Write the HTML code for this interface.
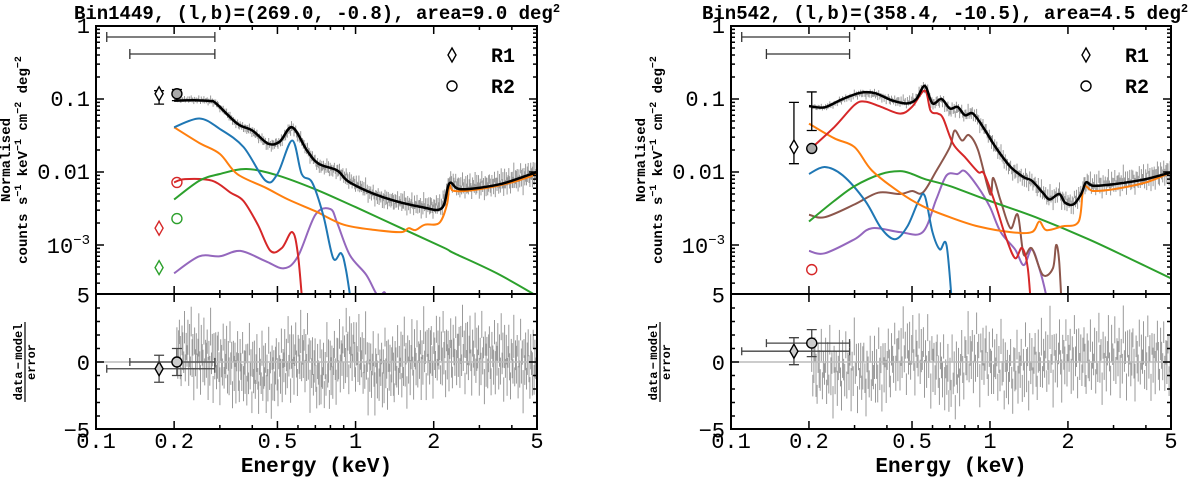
<!DOCTYPE html>
<html><head><meta charset="utf-8"><style>
html,body{margin:0;padding:0;background:#fff;}
svg{display:block;font-family:"Liberation Mono","DejaVu Sans Mono",monospace;}
</style></head><body>
<svg id="chart" width="1200" height="480" viewBox="0 0 1200 480" xmlns="http://www.w3.org/2000/svg">
<defs>
<clipPath id="clipL"><rect x="96" y="26" width="441" height="268"/></clipPath>
<clipPath id="clipR"><rect x="731" y="26" width="440" height="268"/></clipPath>
<clipPath id="clipLr"><rect x="96" y="294" width="441" height="135"/></clipPath>
<clipPath id="clipRr"><rect x="731" y="294" width="440" height="135"/></clipPath>
</defs>
</svg>
<script>
// ---------- LEFT PANEL DATA (Bin1449) ----------
const L_totE=[0.2,0.24,0.274,0.29,0.35,0.40,0.46,0.51,0.57,0.65,0.72,0.85,0.95,1.28,1.8,2.15,2.3,2.55,3.6,5];
const L_totV=[0.095,0.096,0.094,0.087,0.046,0.037,0.0245,0.026,0.041,0.0197,0.013,0.0105,0.0072,0.0045,0.0033,0.0032,0.007,0.0058,0.0068,0.01];
const L_blueE=[0.2,0.25,0.3,0.37,0.45,0.5,0.57,0.62,0.68,0.75,0.82,0.88,0.92,0.98];
const L_blueV=[0.041,0.054,0.039,0.022,0.0076,0.0094,0.027,0.0094,0.0072,0.0026,0.00066,0.00077,0.00044,0.0001];
const L_orgE=[0.2,0.25,0.3,0.35,0.45,0.55,0.7,0.9,1.2,1.5,1.6,1.7,1.85,2.1,2.25,2.3,2.4,3,4,5];
const L_orgV=[0.041,0.025,0.0177,0.0094,0.0061,0.0042,0.0029,0.0019,0.0016,0.0015,0.0017,0.0016,0.0019,0.002,0.0036,0.0065,0.0055,0.0058,0.0072,0.0094];
const L_grnE=[0.2,0.25,0.3,0.38,0.5,0.7,1,1.5,2.2,2.4,3.5,5];
const L_grnV=[0.0042,0.0076,0.0094,0.011,0.009,0.0058,0.0033,0.0017,0.00091,0.00077,0.00041,0.0002];
const L_redE=[0.2,0.22,0.28,0.33,0.37,0.42,0.47,0.52,0.57,0.6,0.63];
const L_redV=[0.0072,0.008,0.0076,0.0052,0.004,0.0019,0.00083,0.00091,0.0015,0.00073,0.0001];
const L_purE=[0.2,0.25,0.3,0.36,0.45,0.53,0.6,0.7,0.8,0.85,0.95,1.1,1.22,1.3,1.35];
const L_purV=[0.00041,0.0007,0.0007,0.00083,0.0006,0.00048,0.0007,0.0026,0.0031,0.002,0.00073,0.00039,0.0002,0.00022,0.0001];
const L_resE=[0.2,0.25,0.3,0.35,0.4,0.45,0.5,0.55,0.6,0.65,0.7,0.75,0.8,0.9,0.95,1.0,1.1,1.2,1.4,1.6,1.8,2.0,2.5,3.0,3.5,4,4.5,5];
const L_resV=[0.8,0.5,0,-0.3,-0.8,-0.9,-0.5,0,0.3,0.5,-0.8,-1,-0.5,0.5,1,0.5,-0.3,-0.6,-0.5,0,0.3,0.5,0.7,0.4,0.3,0,0,-0.3];
const L_pts=[{lab:'R1',E:0.175,V:0.118,lo:0.085,hi:0.13,r:-0.5,eLo:0.11,eHi:0.287},{lab:'R2',E:0.205,V:0.118,lo:0.095,hi:0.135,r:0,eLo:0.135,eHi:0.287}];
const L_compPts=[{shape:'d',E:0.175,V:0.0017,c:'#d62728'},{shape:'o',E:0.205,V:0.0072,c:'#d62728'},{shape:'d',E:0.175,V:0.00049,c:'#2ca02c'},{shape:'o',E:0.205,V:0.0023,c:'#2ca02c'}];

// ---------- RIGHT PANEL DATA (Bin542) ----------
const R_totE=[0.2,0.23,0.27,0.317,0.36,0.42,0.48,0.52,0.56,0.6,0.65,0.7,0.75,0.8,0.86,0.95,1.05,1.2,1.35,1.45,1.6,1.7,1.85,1.95,2.1,2.25,2.35,2.5,3,4,5];
const R_totV=[0.08,0.077,0.1,0.122,0.12,0.095,0.087,0.1,0.151,0.087,0.1,0.074,0.078,0.06,0.063,0.039,0.022,0.0118,0.0085,0.0076,0.0052,0.0042,0.005,0.0038,0.0036,0.005,0.0072,0.0065,0.0068,0.008,0.0099];
const R_redE=[0.2,0.25,0.3,0.33,0.38,0.45,0.5,0.56,0.59,0.63,0.66,0.72,0.8,0.9,0.95,1.05,1.15,1.25,1.33,1.4,1.45];
const R_redV=[0.0198,0.041,0.083,0.092,0.078,0.063,0.078,0.13,0.069,0.063,0.054,0.0245,0.016,0.01,0.0094,0.0036,0.0013,0.00066,0.00091,0.00048,0.0001];
const R_brnE=[0.2,0.23,0.3,0.37,0.45,0.5,0.55,0.62,0.7,0.73,0.78,0.83,0.9,1.0,1.03,1.1,1.2,1.28,1.35,1.45,1.6,1.75,1.8,1.85,1.9];
const R_brnV=[0.0026,0.0024,0.0036,0.0052,0.005,0.0055,0.0052,0.0103,0.022,0.037,0.027,0.032,0.0198,0.005,0.0083,0.004,0.0017,0.0026,0.00074,0.0009,0.00039,0.00048,0.001,0.00059,0.0001];
const R_purE=[0.2,0.23,0.3,0.35,0.45,0.55,0.62,0.68,0.75,0.8,0.9,1.0,1.1,1.25,1.35,1.45,1.55,1.65,1.7];
const R_purV=[0.00083,0.00077,0.0012,0.0017,0.0015,0.0015,0.0042,0.009,0.0094,0.0103,0.0062,0.0033,0.0015,0.00087,0.00053,0.00087,0.00048,0.0002,0.0001];
const R_blueE=[0.2,0.23,0.27,0.33,0.38,0.43,0.48,0.53,0.56,0.6,0.64,0.68,0.72];
const R_blueV=[0.0094,0.0117,0.009,0.004,0.0017,0.0012,0.0018,0.004,0.0047,0.0015,0.00087,0.00098,0.0001];
const R_orgE=[0.2,0.25,0.3,0.35,0.45,0.55,0.7,0.9,1.2,1.45,1.55,1.65,1.9,2.2,2.3,2.5,3,4,5];
const R_orgV=[0.046,0.029,0.0219,0.0105,0.0052,0.0034,0.0024,0.0018,0.0015,0.0015,0.0021,0.0016,0.0018,0.0021,0.0061,0.0055,0.0058,0.0072,0.0099];
const R_grnE=[0.2,0.25,0.3,0.38,0.45,0.5,0.56,0.7,1,1.5,2.4,3.5,5];
const R_grnV=[0.0021,0.004,0.0064,0.0094,0.0103,0.0094,0.008,0.0064,0.004,0.0024,0.0012,0.00064,0.00035];
const R_resE=[0.2,0.25,0.3,0.35,0.4,0.45,0.5,0.55,0.6,0.65,0.7,0.75,0.8,0.9,0.95,1.0,1.1,1.2,1.4,1.6,1.8,2.0,2.5,3.0,3.5,4,4.5,5];
const R_resV=[-0.5,-0.8,-0.5,-1,-0.2,0.5,0.6,0.3,0,-0.5,-1.5,-1,0.2,0.5,0.3,0,-0.5,-0.8,-0.3,0,0.3,0.5,0,0.5,0.3,0.2,0.5,0];
const R_pts=[{lab:'R1',E:0.175,V:0.022,lo:0.013,hi:0.09,r:0.8,eLo:0.11,eHi:0.287},{lab:'R2',E:0.205,V:0.021,lo:0.037,hi:0.125,r:1.4,eLo:0.137,eHi:0.287}];
const R_compPts=[{shape:'o',E:0.205,V:0.00046,c:'#d62728'}];

// scatter pattern for the noisy data bins (read as typical deviation sequence)
const noisePattern=[0.8,-1.2,0.3,1.5,-0.4,-1.8,0.9,0.1,-0.7,1.9,-1.1,0.5,-0.2,1.2,-1.5,0.6,-0.9,2.4,-0.3,0.7,-2.2,1.0,-0.6];
const errPattern=[1.0,0.8,1.3,0.9,1.6,0.7,1.1,1.4,0.8,1.2,1.0];
const xTickVals=[0.1,0.2,0.5,1,2,5];
const xTickLabels=['0.1','0.2','0.5','1','2','5'];
const xMinorVals=[0.3,0.4,0.6,0.7,0.8,0.9,3,4];
const resTickVals=[5,0,-5];
const resTickLabels=['5','0','\u22125'];

const svg=document.getElementById('chart');
const NS='http://www.w3.org/2000/svg';
function mk(tag,attrs,parent){const e=document.createElementNS(NS,tag);for(const k in attrs)e.setAttribute(k,attrs[k]);(parent||svg).appendChild(e);return e;}
function lerpLog(Es,Vs,E){if(E<=Es[0])return Vs[0];for(let i=1;i<Es.length;i++){if(E<=Es[i]){const t=(Math.log10(E)-Math.log10(Es[i-1]))/(Math.log10(Es[i])-Math.log10(Es[i-1]));return Math.pow(10,Math.log10(Vs[i-1])+t*(Math.log10(Vs[i])-Math.log10(Vs[i-1])));}}return Vs[Vs.length-1];}
function lerpLin(Es,Vs,E){if(E<=Es[0])return Vs[0];for(let i=1;i<Es.length;i++){if(E<=Es[i]){const t=(Math.log10(E)-Math.log10(Es[i-1]))/(Math.log10(Es[i])-Math.log10(Es[i-1]));return Vs[i-1]+t*(Vs[i]-Vs[i-1]);}}return Vs[Vs.length-1];}
function smooth(p){let d='M'+p[0][0].toFixed(1)+','+p[0][1].toFixed(1);for(let i=0;i<p.length-1;i++){const p0=p[i-1]||p[i],p1=p[i],p2=p[i+1],p3=p[i+2]||p2;const c1=[p1[0]+(p2[0]-p0[0])/6,p1[1]+(p2[1]-p0[1])/6];const c2=[p2[0]-(p3[0]-p1[0])/6,p2[1]-(p3[1]-p1[1])/6];d+=' C'+c1[0].toFixed(1)+','+c1[1].toFixed(1)+' '+c2[0].toFixed(1)+','+c2[1].toFixed(1)+' '+p2[0].toFixed(1)+','+p2[1].toFixed(1);}return d;}

function panel(P){
  const g=mk('g',{});
  
  
  const TOP=26,MID=294,BOT=429,DEC=73;
  const xs=E=>P.x0+(Math.log10(E)+1)*(P.x1-P.x0)/Math.log10(50);
  const ys=V=>TOP-Math.log10(V)*DEC;
  const yr=r=>362-r*13.5;
  const t=mk('text',{x:P.titleX,y:19,'font-size':19,'font-weight':'bold','text-anchor':P.titleAnchor,fill:'#000'},g);
  
  
  t.appendChild(document.createTextNode(P.title));
  const sup=mk('tspan',{dy:-7,'font-size':12},t);sup.textContent='2';
  const gd=mk('g',{'clip-path':'url(#'+P.clip+')',stroke:'#999','stroke-width':1},g);
  
  
  const gr=mk('g',{'clip-path':'url(#'+P.clipR+')',stroke:'#999','stroke-width':1},g);
  
  
  let k=0;
  for(let E=0.205;E<=5;E*=P.step){
    const o=noisePattern[k%noisePattern.length];
    const ew=errPattern[k%errPattern.length];
    const r=lerpLin(P.resE,P.resV,E)+o;
    const ed=0.02+0.07*Math.log10(E/0.2)/1.4;
    const m=lerpLog(P.totE,P.totV,E);
    const x=xs(E);
    const yc=ys(m*Math.pow(10,r*ed*0.6));
    const l=mk('line',{x1:x.toFixed(1),x2:x.toFixed(1),y1:(yc-ed*DEC*ew).toFixed(1),y2:(yc+ed*DEC*ew).toFixed(1)},gd);
    
    
    const l2=mk('line',{x1:x.toFixed(1),x2:x.toFixed(1),y1:yr(r+ew).toFixed(1),y2:yr(r-ew).toFixed(1)},gr);
    
    
    k++;
  }
  P.curves.forEach(c=>{
    const pts=c.E.map((e,i)=>[xs(e),ys(Math.max(c.V[i],1e-4))]);
    const p=mk('path',{d:smooth(pts),fill:'none',stroke:c.col,'stroke-width':c.w||2,'clip-path':'url(#'+P.clip+')','stroke-linejoin':'round'},g);
    
    
  });
  const z=mk('line',{x1:P.x0,x2:P.x1,y1:362,y2:362,stroke:'#bbb','stroke-width':1.5},g);
  
  
  function marker(shape,x,y,fill,stroke,parent){
    let e;
    if(shape==='d')e=mk('path',{d:`M${x},${y-7} L${x+4},${y} L${x},${y+7} L${x-4},${y} Z`,fill:fill,stroke:stroke,'stroke-width':1.4},parent);
    else e=mk('circle',{cx:x,cy:y,r:5,fill:fill,stroke:stroke,'stroke-width':1.4},parent);
    return e;
  }
  P.compPts.forEach(c=>{
    const m=marker(c.shape,xs(c.E),ys(c.V),'none',c.c,g);
    
    
  });
  P.pts.forEach((p,i)=>{
    const x=xs(p.E);
    const eb=mk('path',{d:`M${x},${ys(p.hi)} V${ys(p.lo)} M${x-5},${ys(p.hi)} H${x+5} M${x-5},${ys(p.lo)} H${x+5}`,stroke:'#000','stroke-width':1.3,fill:'none'},g);
    
    
    const m=marker(i===0?'d':'o',x,ys(p.V),i===0?'#fff':'#aaa','#000',g);
    
    
    const yy=i===0?37:54;
    const hb=mk('path',{d:`M${xs(p.eLo)},${yy} H${xs(p.eHi)} M${xs(p.eLo)},${yy-5} V${yy+5} M${xs(p.eHi)},${yy-5} V${yy+5}`,stroke:'#333','stroke-width':1.3,fill:'none'},g);
    
    
    const yv=yr(p.r);
    const rb=mk('path',{d:`M${xs(p.eLo)},${yv} H${xs(p.eHi)} M${xs(p.eLo)},${yv-4} V${yv+4} M${xs(p.eHi)},${yv-4} V${yv+4} M${x},${yr(p.r+1)} V${yr(p.r-1)} M${x-5},${yr(p.r+1)} H${x+5} M${x-5},${yr(p.r-1)} H${x+5}`,stroke:'#444','stroke-width':1.3,fill:'none'},g);
    
    
    const rm=marker(i===0?'d':'o',x,yv,'#ccc','#000',g);
    
    
  });
  const leg=mk('g',{},g);
  
  
  [['d','R1',55],['o','R2',86]].forEach(a=>{
    const m=marker(a[0],P.x1-85,a[2],'#fff','#000',leg);
    
    
    const tx=mk('text',{x:P.x1-46,y:a[2]+7,'font-size':20,'font-weight':'bold'},leg);
    
    
    tx.textContent=a[1];
  });
  const f1=mk('rect',{x:P.x0,y:TOP,width:P.x1-P.x0,height:MID-TOP,fill:'none',stroke:'#000','stroke-width':2},g);
  
  
  const f2=mk('rect',{x:P.x0,y:MID,width:P.x1-P.x0,height:BOT-MID,fill:'none',stroke:'#000','stroke-width':2},g);
  
  
  let d='';
  xTickVals.forEach(v=>{const x=xs(v);d+=`M${x},${TOP}v8M${x},${MID}v-8M${x},${MID}v8M${x},${BOT}v-8`;});
  xMinorVals.forEach(v=>{const x=xs(v);d+=`M${x},${TOP}v4M${x},${MID}v-4M${x},${MID}v4M${x},${BOT}v-4`;});
  for(let e=0;e>=-4;e--){for(let m=1;m<10;m++){const y=ys(m*Math.pow(10,e-1));if(y>TOP&&y<MID){const L=m===1?8:4;d+=`M${P.x0},${y}h${L}M${P.x1},${y}h${-L}`;}}}
  for(let r=-4;r<=4;r++){const y=yr(r);const L=r===0?8:4;d+=`M${P.x0},${y}h${L}M${P.x1},${y}h${-L}`;}
  const tk=mk('path',{d:d,stroke:'#000','stroke-width':1.5,fill:'none'},g);
  
  
  [['1',1],['0.1',0.1],['0.01',0.01]].forEach(a=>{
    const tx=mk('text',{x:P.x0-6,y:ys(a[1])+7,'font-size':22,'text-anchor':'end'},g);
    
    
    tx.textContent=a[0];
  });
  const t3=mk('text',{x:P.x0-6,y:ys(0.001)+8,'font-size':22,'text-anchor':'end'},g);
  
  
  t3.appendChild(document.createTextNode('10'));
  const s3=mk('tspan',{dy:-9,'font-size':14},t3);s3.textContent='\u22123';
  resTickVals.forEach((v,i)=>{
    const tx=mk('text',{x:P.x0-6,y:yr(v)+8,'font-size':22,'text-anchor':'end'},g);
    
    
    tx.textContent=resTickLabels[i];
  });
  xTickVals.forEach((v,i)=>{
    const tx=mk('text',{x:xs(v),y:448,'font-size':22,'text-anchor':'middle'},g);
    
    
    tx.textContent=xTickLabels[i];
  });
  const xt=mk('text',{x:(P.x0+P.x1)/2,y:472,'font-size':21,'font-weight':'bold','text-anchor':'middle'},g);
  
  
  xt.textContent='Energy (keV)';
  const ya=mk('text',{transform:`translate(${P.lab1},160) rotate(-90)`,'font-size':14,'font-weight':'bold','text-anchor':'middle'},g);
  
  
  ya.textContent='Normalised';
  const yb=mk('text',{transform:`translate(${P.lab2},160) rotate(-90)`,'font-size':14,'font-weight':'bold','text-anchor':'middle'},g);
  
  
  const parts=[['counts s',''],['\u22121',1],[' keV',''],['\u22121',1],[' cm',''],['\u22122',1],[' deg',''],['\u22122',1]];
  let up=false;
  parts.forEach(p=>{const ts=mk('tspan',{},yb);if(p[1]){ts.setAttribute('dy',-6);ts.setAttribute('font-size',10);up=true;}else if(up){ts.setAttribute('dy',6);up=false;}ts.textContent=p[0];});
  const rt=mk('g',{transform:`translate(${P.lab2-2},362) rotate(-90)`,'font-size':12,'font-weight':'bold','text-anchor':'middle'},g);
  
  
  const n1=mk('text',{x:0,y:-3},rt);n1.textContent='data\u2009\u2212\u2009model';
  const n2=mk('text',{x:0,y:10},rt);n2.textContent='error';
  mk('line',{x1:-40,x2:40,y1:0,y2:0,stroke:'#000','stroke-width':1.2},rt);
}

panel({name:'left-panel-bin1449',x0:96,x1:537,clip:'clipL',clipR:'clipLr',title:'Bin1449, (l,b)=(269.0, -0.8), area=9.0 deg',titleX:317,titleAnchor:'middle',lab1:10,lab2:27,step:1.0075,
  totE:L_totE,totV:L_totV,resE:L_resE,resV:L_resV,pts:L_pts,compPts:L_compPts,
  curves:[{name:'purple-component',E:L_purE,V:L_purV,col:'#9467bd'},{name:'red-component',E:L_redE,V:L_redV,col:'#d62728'},{name:'green-component',E:L_grnE,V:L_grnV,col:'#2ca02c'},{name:'orange-component',E:L_orgE,V:L_orgV,col:'#ff7f0e'},{name:'blue-component',E:L_blueE,V:L_blueV,col:'#1f77b4'},{name:'total-model',E:L_totE,V:L_totV,col:'#000',w:2.5}]});
panel({name:'right-panel-bin542',x0:731,x1:1171,clip:'clipR',clipR:'clipRr',title:'Bin542, (l,b)=(358.4, -10.5), area=4.5 deg',titleX:702,titleAnchor:'start',lab1:645,lab2:662,step:1.0095,
  totE:R_totE,totV:R_totV,resE:R_resE,resV:R_resV,pts:R_pts,compPts:R_compPts,
  curves:[{name:'purple-component',E:R_purE,V:R_purV,col:'#9467bd'},{name:'brown-component',E:R_brnE,V:R_brnV,col:'#8c564b'},{name:'blue-component',E:R_blueE,V:R_blueV,col:'#1f77b4'},{name:'green-component',E:R_grnE,V:R_grnV,col:'#2ca02c'},{name:'orange-component',E:R_orgE,V:R_orgV,col:'#ff7f0e'},{name:'red-component',E:R_redE,V:R_redV,col:'#d62728'},{name:'total-model',E:R_totE,V:R_totV,col:'#000',w:2.5}]});
</script>
</body></html>
